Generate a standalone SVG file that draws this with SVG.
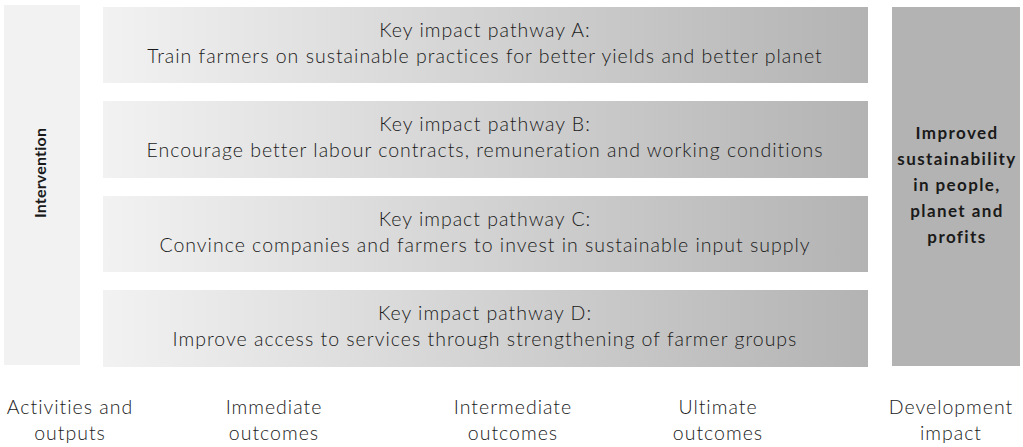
<svg xmlns="http://www.w3.org/2000/svg" width="1023" height="447" viewBox="0 0 1023 447">
  <defs>
    <linearGradient id="bar" x1="0" y1="0" x2="1" y2="0">
      <stop offset="0" stop-color="#f2f2f2"/>
      <stop offset="1" stop-color="#b3b3b3"/>
    </linearGradient>
  </defs>
  <style>
    .t { font-family: Lato, "Open Sans", "Liberation Sans", sans-serif; fill: #1a1a1a; text-anchor: middle; }
    .path { font-size: 19.5px; font-weight: 300; letter-spacing: 1px; }
    .stage { font-size: 19.5px; font-weight: 300; letter-spacing: 1px; }
    .bold { font-size: 17px; font-weight: 700; letter-spacing: 1.4px; }
    .side { font-size: 16px; font-weight: 700; letter-spacing: 0.2px; }
  </style>
  <rect width="1023" height="447" fill="#ffffff"/>

  <g id="intervention">
    <rect x="4" y="5" width="76" height="360" fill="#f2f2f2"/>
    <text class="t side" transform="translate(46 173) rotate(-90)">Intervention</text>
  </g>

  <g id="pathway-a">
    <rect x="103" y="7" width="765" height="76" fill="url(#bar)"/>
    <text class="t path" x="485" y="37">Key impact pathway A:</text>
    <text class="t path" x="485" y="63">Train farmers on sustainable practices for better yields and better planet</text>
  </g>

  <g id="pathway-b">
    <rect x="103" y="101" width="765" height="77" fill="url(#bar)"/>
    <text class="t path" x="485" y="131">Key impact pathway B:</text>
    <text class="t path" x="485" y="157">Encourage better labour contracts, remuneration and working conditions</text>
  </g>

  <g id="pathway-c">
    <rect x="103" y="196" width="765" height="76" fill="url(#bar)"/>
    <text class="t path" x="485" y="226">Key impact pathway C:</text>
    <text class="t path" x="485" y="252">Convince companies and farmers to invest in sustainable input supply</text>
  </g>

  <g id="pathway-d">
    <rect x="103" y="290" width="765" height="77" fill="url(#bar)"/>
    <text class="t path" x="485" y="320">Key impact pathway D:</text>
    <text class="t path" x="485" y="346">Improve access to services through strengthening of farmer groups</text>
  </g>

  <g id="impact">
    <rect x="892" y="7" width="128" height="359" fill="#b3b3b3"/>
    <text class="t bold" x="957" y="139">Improved</text>
    <text class="t bold" x="957" y="165">sustainability</text>
    <text class="t bold" x="957" y="191">in people,</text>
    <text class="t bold" x="957" y="217">planet and</text>
    <text class="t bold" x="957" y="243">profits</text>
  </g>

  <g id="stages">
    <text class="t stage" x="70" y="414">Activities and</text>
    <text class="t stage" x="70" y="440">outputs</text>
    <text class="t stage" x="274" y="414">Immediate</text>
    <text class="t stage" x="274" y="440">outcomes</text>
    <text class="t stage" x="513" y="414">Intermediate</text>
    <text class="t stage" x="513" y="440">outcomes</text>
    <text class="t stage" x="718" y="414">Ultimate</text>
    <text class="t stage" x="718" y="440">outcomes</text>
    <text class="t stage" x="951" y="414">Development</text>
    <text class="t stage" x="951" y="440">impact</text>
  </g>
</svg>
